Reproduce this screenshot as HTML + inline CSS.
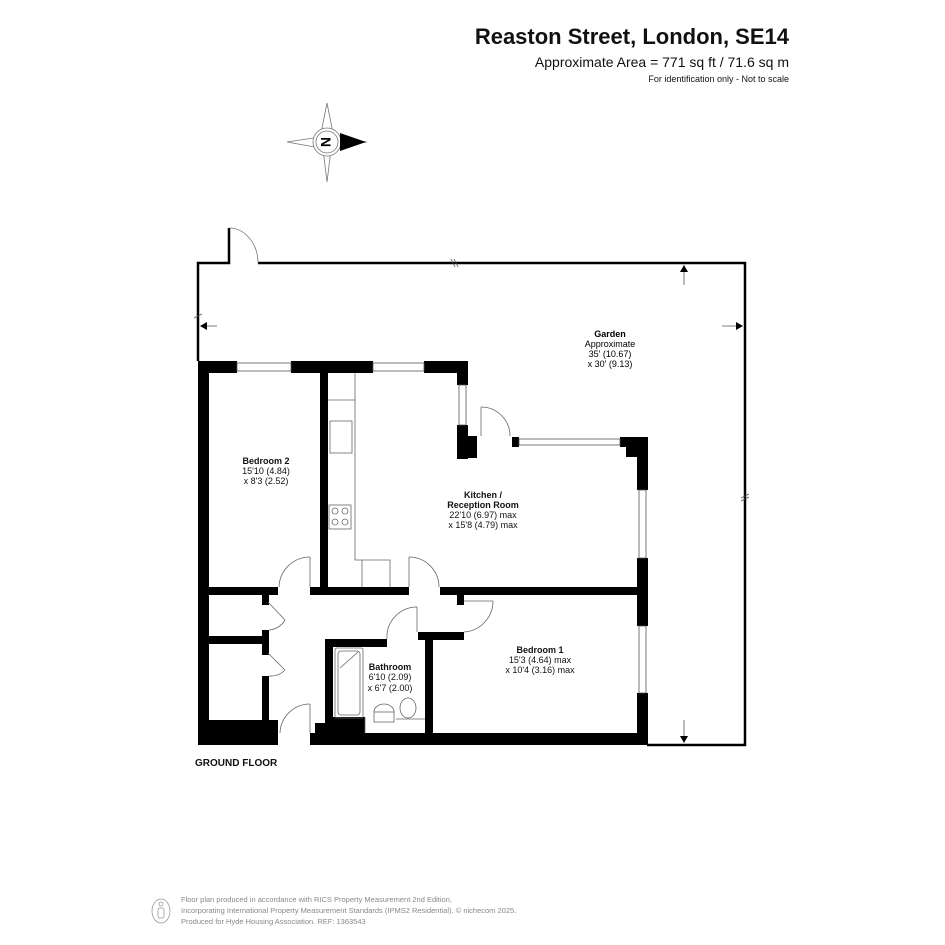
<!DOCTYPE html>
<html><head><style>
body{margin:0;background:#fff}
svg{display:block;font-family:"Liberation Sans",Arial,sans-serif}
</style></head><body>
<svg width="945" height="945" viewBox="0 0 945 945" xmlns="http://www.w3.org/2000/svg">
<rect width="945" height="945" fill="#fff"/>
<!-- title -->
<text x="789" y="44" font-size="22" font-weight="bold" text-anchor="end" fill="#111">Reaston Street, London, SE14</text>
<text x="789" y="67" font-size="14" text-anchor="end" fill="#111">Approximate Area = 771 sq ft / 71.6 sq m</text>
<text x="789" y="82" font-size="9" text-anchor="end" fill="#111">For identification only - Not to scale</text>

<!-- compass -->
<g stroke="#777" stroke-width="0.8" fill="none">
<polygon points="327,103 333,133 327,182 321,133"/>
<polygon points="287,142 320,137 367,142 320,148"/>
<circle cx="327" cy="142" r="14" fill="#fff"/>
<circle cx="327" cy="142" r="11"/>
</g>
<polygon points="340,133 366,142 340,151" fill="#000"/>
<text x="327" y="148" font-size="14" font-weight="bold" text-anchor="middle" transform="rotate(90 327 142)">N</text>

<!-- garden outline -->
<g stroke="#000" stroke-width="2.5" fill="none">
<polyline points="198,361 198,263 229,263 229,228"/>
<polyline points="258,263 745,263 745,745 647,745"/>
</g>
<path d="M229,228 A29,35 0 0 1 258,263" stroke="#777" fill="none" stroke-width="0.8"/>
<g stroke="#555" stroke-width="0.8">
<line x1="451" y1="259" x2="455" y2="267"/><line x1="454" y1="259" x2="458" y2="267"/>
<line x1="741" y1="498" x2="749" y2="494"/><line x1="741" y1="501" x2="749" y2="497"/>
<line x1="194" y1="318" x2="202" y2="314"/>
<line x1="684" y1="265" x2="684" y2="285"/>
<line x1="201" y1="326" x2="217" y2="326"/>
<line x1="722" y1="326" x2="742" y2="326"/>
<line x1="684" y1="720" x2="684" y2="740"/>
</g>
<polygon points="684,265 680,272 688,272" fill="#000"/>
<polygon points="200,326 207,322 207,330" fill="#000"/>
<polygon points="743,326 736,322 736,330" fill="#000"/>
<polygon points="684,743 680,736 688,736" fill="#000"/>
<text x="610" y="337" font-size="9" font-weight="bold" text-anchor="middle">Garden</text>
<text x="610" y="347" font-size="9" text-anchor="middle">Approximate</text>
<text x="610" y="357" font-size="9" text-anchor="middle">35' (10.67)</text>
<text x="610" y="367" font-size="9" text-anchor="middle">x 30' (9.13)</text>

<!-- walls -->
<g fill="#000">
<rect x="198" y="361" width="11" height="384"/>
<rect x="198" y="361" width="39" height="12"/>
<rect x="291" y="361" width="82" height="12"/>
<rect x="424" y="361" width="44" height="12"/>
<rect x="457" y="361" width="11" height="24"/>
<rect x="457" y="425" width="11" height="34"/>
<rect x="457" y="436" width="20" height="22"/>
<rect x="512" y="437" width="7" height="10"/>
<rect x="620" y="437" width="28" height="10"/>
<rect x="626" y="437" width="22" height="20"/>
<rect x="637" y="437" width="11" height="53"/>
<rect x="637" y="558" width="11" height="68"/>
<rect x="637" y="693" width="11" height="52"/>
<rect x="320" y="373" width="8" height="220"/>
<rect x="208" y="587" width="70" height="8"/>
<rect x="310" y="587" width="99" height="8"/>
<rect x="440" y="587" width="197" height="8"/>
<rect x="208" y="636" width="60" height="8"/>
<rect x="262" y="595" width="7" height="10"/>
<rect x="262" y="630" width="7" height="25"/>
<rect x="262" y="676" width="7" height="44"/>
<rect x="198" y="720" width="80" height="25"/>
<rect x="457" y="595" width="7" height="10"/>
<rect x="418" y="632" width="46" height="8"/>
<rect x="327" y="639" width="60" height="8"/>
<rect x="325" y="639" width="8" height="106"/>
<rect x="425" y="640" width="8" height="105"/>
<rect x="310" y="733" width="337" height="12"/>
<rect x="315" y="723" width="18" height="15"/>
<rect x="333" y="717" width="32" height="20"/>
</g>
<!-- window lines -->
<g stroke="#555" stroke-width="0.8" fill="none">
<rect x="237" y="363" width="54" height="8"/>
<rect x="373" y="363" width="51" height="8"/>
<rect x="459" y="385" width="7" height="40"/>
<rect x="519" y="439" width="101" height="6"/>
<rect x="639" y="490" width="7" height="68"/>
<rect x="639" y="626" width="7" height="67"/>
</g>
<!-- doors -->
<g stroke="#666" stroke-width="0.8" fill="none">
<line x1="481" y1="407" x2="481" y2="436"/><path d="M481,407 A29,29 0 0 1 510,436"/>
<path d="M310,557 A31,31 0 0 0 279,587"/><line x1="310" y1="557" x2="310" y2="587"/>
<path d="M409,557 A30,30 0 0 1 439,587"/><line x1="409" y1="557" x2="409" y2="587"/>
<path d="M493,601 A31,31 0 0 1 464,632"/><line x1="464" y1="601" x2="493" y2="601"/>
<path d="M417,607 A30,30 0 0 0 387,639"/><line x1="417" y1="607" x2="417" y2="632"/>
<path d="M310,704 A30,30 0 0 0 280,733"/><line x1="310" y1="704" x2="310" y2="733"/>
<line x1="268" y1="602" x2="285" y2="620"/><path d="M285,620 A20,20 0 0 1 269,630"/>
<line x1="268" y1="653" x2="285" y2="670"/><path d="M285,670 A20,20 0 0 1 269,676"/>
<!-- kitchen counter -->
<polyline points="328,400 355,400 355,560 362,560 362,587"/>
<line x1="355" y1="373" x2="355" y2="400"/>
<polyline points="362,560 390,560 390,587"/>
<rect x="330" y="421" width="22" height="32"/>
<rect x="329" y="505" width="22" height="24"/>
<circle cx="335" cy="511" r="3"/><circle cx="345" cy="511" r="3"/>
<circle cx="335" cy="522" r="3"/><circle cx="345" cy="522" r="3"/>
<!-- bathroom -->
<rect x="335" y="648" width="28" height="70" rx="2"/>
<rect x="338" y="651" width="22" height="64" rx="3"/>
<line x1="340" y1="668" x2="358" y2="652"/>
<rect x="374" y="712" width="20" height="10"/>
<path d="M374,712 A10,8 0 0 1 394,712"/>
<ellipse cx="408" cy="708" rx="8" ry="10"/>
<line x1="396" y1="719" x2="425" y2="719"/>
<line x1="365" y1="717" x2="365" y2="733"/>
</g>
<!-- room labels -->
<g font-size="9" text-anchor="middle" fill="#111">
<text x="266" y="464" font-weight="bold">Bedroom 2</text>
<text x="266" y="474">15'10 (4.84)</text>
<text x="266" y="484">x 8'3 (2.52)</text>
<text x="483" y="498" font-weight="bold">Kitchen /</text>
<text x="483" y="508" font-weight="bold">Reception Room</text>
<text x="483" y="518">22'10 (6.97) max</text>
<text x="483" y="528">x 15'8 (4.79) max</text>
<text x="390" y="670" font-weight="bold">Bathroom</text>
<text x="390" y="680">6'10 (2.09)</text>
<text x="390" y="691">x 6'7 (2.00)</text>
<text x="540" y="653" font-weight="bold">Bedroom 1</text>
<text x="540" y="663">15'3 (4.64) max</text>
<text x="540" y="673">x 10'4 (3.16) max</text>
</g>
<text x="195" y="766" font-size="10" font-weight="bold" fill="#111">GROUND FLOOR</text>
<!-- footer -->
<g stroke="#999" fill="none" stroke-width="0.8">
<ellipse cx="161" cy="911" rx="9" ry="12"/>
<circle cx="161" cy="904" r="2"/>
<rect x="158" y="908" width="6" height="10" rx="2"/>
</g>
<g font-size="7.5" fill="#888">
<text x="181" y="902">Floor plan produced in accordance with RICS Property Measurement 2nd Edition,</text>
<text x="181" y="913">Incorporating International Property Measurement Standards (IPMS2 Residential).   © nichecom 2025.</text>
<text x="181" y="924">Produced for Hyde Housing Association.  REF: 1363543</text>
</g>
</svg>
</body></html>
